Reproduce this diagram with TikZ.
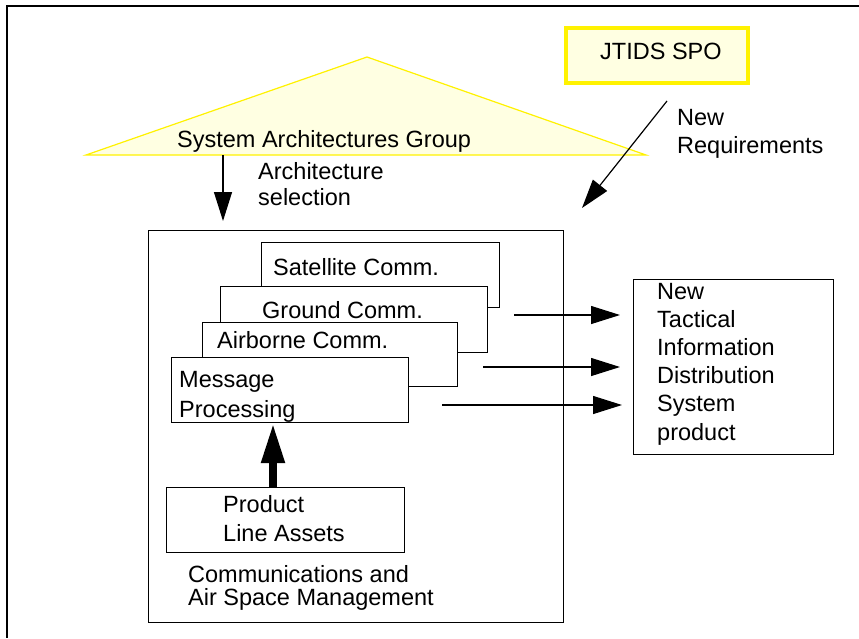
\documentclass[tikz,border=0pt]{standalone}
\usepackage{fontspec}
\setmainfont{Liberation Sans}
\usetikzlibrary{arrows.meta}
\definecolor{paleyellow}{RGB}{255,255,226}
\begin{document}
\begin{tikzpicture}[x=1pt,y=-1pt,
  txt/.style={anchor=base west, inner sep=0pt, font=\fontsize{23.5}{28}\selectfont},
  box/.style={draw, line width=1.2pt, fill=white, anchor=north west, inner sep=0pt},
  arr/.style={line width=1.2pt, -{Triangle[length=29pt,width=18pt]}},
  bigarr/.style={line width=8pt, -{Triangle[length=40pt,width=22pt]}}]
\useasboundingbox (0,0) rectangle (859,638);
\fill[white] (0,0) rectangle (859,638);
% frame
\coordinate (fr1) at (859,6);
\coordinate (fr2) at (7,6);
\coordinate (fr3) at (7,638);
\draw[line width=2pt] (fr1) -- (fr2) -- (fr3);
% triangle (System Architectures Group)
\coordinate (tl) at (86,155);
\coordinate (tt) at (367,57);
\coordinate (tr) at (646,155);
\filldraw[fill=paleyellow, draw=yellow, line width=1.2pt] (tl) -- (tt) -- (tr) -- cycle;
\node[txt] (sagt) at (177,147) {System Architectures Group};
% JTIDS SPO
\node[box, draw=yellow, fill=paleyellow, line width=3.5pt, minimum width=182pt, minimum height=55pt] (jtids) at (564,26) {};
\node[txt] (jtidst) at (600,59) {JTIDS SPO};
% main box
\node[box, minimum width=415pt, minimum height=392pt] (main) at (148,230) {};
% stacked boxes
\node[box, minimum width=238pt, minimum height=65pt] (sat) at (261,242) {};
\node[txt] (satt) at (273,275) {Satellite Comm.};
\node[box, minimum width=267pt, minimum height=66pt] (gnd) at (220,286) {};
\node[txt] (gndt) at (262,318) {Ground Comm.};
\node[box, minimum width=255pt, minimum height=64pt] (air) at (202,322) {};
\node[txt] (airt) at (217,348) {Airborne Comm.};
\node[box, minimum width=237pt, minimum height=65pt] (msg) at (171,357) {};
\node[txt] (msgt) at (179,387) {\vtop{\baselineskip=30pt\hbox{Message}\hbox{Processing}}};
% product line assets
\node[box, minimum width=238pt, minimum height=65pt] (pla) at (166,487) {};
\node[txt] (plat) at (223,512) {\vtop{\baselineskip=29pt\hbox{Product}\hbox{Line Assets}}};
\node[txt] (camt) at (188,582) {\vtop{\baselineskip=23.5pt\hbox{Communications and}\hbox{Air Space Management}}};
% product box
\node[box, minimum width=200pt, minimum height=175pt] (tids) at (633,279) {};
\node[txt] (tidst) at (657,299) {\vtop{\baselineskip=28.2pt\hbox{New}\hbox{Tactical}\hbox{Information}\hbox{Distribution}\hbox{System}\hbox{product}}};
% labels
\node[txt] (archt) at (258,179) {\vtop{\baselineskip=26pt\hbox{Architecture}\hbox{selection}}};
\node[txt] (nrt) at (677,125) {\vtop{\hbox{New}\hbox{Requirements}}};
% arrows
\coordinate (asel1) at (223,155);
\coordinate (asel2) at (223,221);
\draw[arr] (asel1) -- (asel2);
\coordinate (nr1) at (667,101);
\coordinate (nr2) at (582,208);
\draw[arr] (nr1) -- (nr2);
\coordinate (o1s) at (514,315);
\coordinate (o1e) at (620,315);
\coordinate (o2s) at (483,367);
\coordinate (o2e) at (620,367);
\coordinate (o3s) at (442,405);
\coordinate (o3e) at (622,405);
\draw[arr] (o1s) -- (o1e);
\draw[arr] (o2s) -- (o2e);
\draw[arr] (o3s) -- (o3e);
\coordinate (bx) at (273,0);
\draw[bigarr] (pla.north -| bx) -- (msg.south -| bx);
\end{tikzpicture}
\end{document}
